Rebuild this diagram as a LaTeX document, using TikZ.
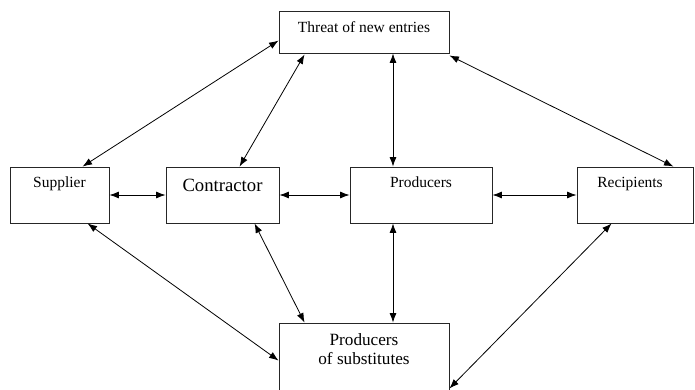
\documentclass[tikz,border=0pt]{standalone}
\usepackage{fontspec}
\setmainfont{Liberation Serif}
\usetikzlibrary{arrows.meta}
\begin{document}
\begin{tikzpicture}[x=1pt,y=-1pt,
  box/.style={draw=black!85,line width=0.9pt,inner sep=0pt},
  lbl/.style={anchor=base,inner sep=0pt,font=\fontsize{15.5}{18}\selectfont},
  conn/.style={line width=0.8pt,{Latex[length=9.5pt,width=7pt]}-{Latex[length=9.5pt,width=7pt]}}]
\clip (0,0) rectangle (695,389);
\fill[white] (0,0) rectangle (695,389);
% boxes
\node[box,minimum width=170pt,minimum height=42pt] (thr) at (364,32) {};
\node[box,minimum width=99pt,minimum height=56pt] (sup) at (59.5,195) {};
\node[box,minimum width=113pt,minimum height=56pt] (con) at (222.5,195) {};
\node[box,minimum width=142pt,minimum height=56pt] (pro) at (421,195) {};
\node[box,minimum width=116pt,minimum height=56pt] (rec) at (635,195) {};
\node[box,minimum width=170pt,minimum height=80pt] (sub) at (364,363) {};
% labels
\node[lbl] (thrt) at (364,32) {Threat of new entries};
\node[lbl] (supt) at (59.5,187) {Supplier};
\node[lbl,font=\fontsize{18.7}{22}\selectfont] (cont) at (222.5,191) {Contractor};
\node[lbl] (prot) at (421,187) {Producers};
\node[lbl] (rect) at (630,187) {Recipients};
\node[lbl,font=\fontsize{17.2}{20}\selectfont] (subt1) at (364,345) {Producers};
\node[lbl,font=\fontsize{17.2}{20}\selectfont] (subt2) at (364,364) {of substitutes};
% connectors
\draw[conn] ([xshift=73pt]sup.north west) -- ([yshift=-30pt]thr.north west);
\draw[conn] ([xshift=74pt]con.north west) -- ([xshift=26pt,yshift=-1pt]thr.south west);
\draw[conn] ([xshift=-28pt]pro.north) -- ([xshift=29pt]thr.south);
\draw[conn] ([xshift=-20pt]rec.north east) -- ([yshift=-2pt]thr.south east);
\draw[conn] (sup.east) -- (con.west);
\draw[conn] (con.east) -- (pro.west);
\draw[conn] (pro.east) -- (rec.west);
\draw[conn] ([xshift=78pt]sup.south west) -- ([yshift=-38pt]sub.north west);
\draw[conn] ([xshift=89pt]con.south west) -- ([xshift=26pt]sub.north west);
\draw[conn] ([xshift=-28pt]pro.south) -- ([xshift=29pt]sub.north);
\draw[conn] ([xshift=35pt]rec.south west) -- ([yshift=15pt]sub.south east);
\end{tikzpicture}
\end{document}
